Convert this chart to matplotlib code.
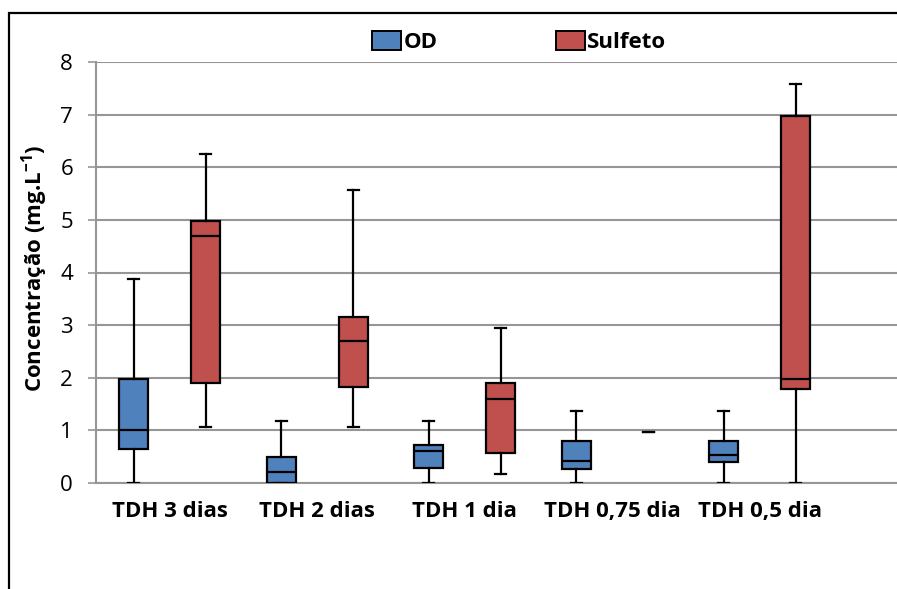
import matplotlib

matplotlib.use("Agg")
import matplotlib.pyplot as plt
from matplotlib.patches import Patch, Rectangle

plt.rcParams["font.family"] = ["Open Sans", "DejaVu Sans"]
plt.rcParams["mathtext.fontset"] = "custom"
plt.rcParams["mathtext.rm"] = "Open Sans"
plt.rcParams["mathtext.bf"] = "Open Sans:bold"

# TDH groups and box statistics (mg/L)
groups = ["TDH 3 dias", "TDH 2 dias", "TDH 1 dia", "TDH 0,75 dia", "TDH 0,5 dia"]

od_low = [0.0, 0.0, 0.0, 0.0, 0.0]
od_q1 = [0.65, 0.0, 0.28, 0.27, 0.39]
od_med = [1.0, 0.2, 0.6, 0.42, 0.54]
od_q3 = [1.97, 0.5, 0.73, 0.8, 0.8]
od_high = [3.87, 1.17, 1.17, 1.37, 1.37]

sulf_low = [1.07, 1.07, 0.17, 0.96, 0.0]
sulf_q1 = [1.9, 1.82, 0.57, 0.96, 1.79]
sulf_med = [4.7, 2.7, 1.6, 0.96, 1.97]
sulf_q3 = [4.97, 3.15, 1.9, 0.96, 6.97]
sulf_high = [6.25, 5.57, 2.95, 0.96, 7.58]

BLUE = "#4F81BD"
RED = "#C0504D"
GRID = "#969696"


def stats(low, q1, med, q3, high):
    return [
        {"whislo": a, "q1": b, "med": c, "q3": d, "whishi": e, "fliers": []}
        for a, b, c, d, e in zip(low, q1, med, q3, high)
    ]


fig = plt.figure(figsize=(8.97, 5.89), dpi=100)
ax = fig.add_axes([96 / 897, 106 / 589, 1 - 96 / 897, 421 / 589])

line = dict(color="black", lw=1.6)
for st, off, col in [
    (stats(od_low, od_q1, od_med, od_q3, od_high), -0.245, BLUE),
    (stats(sulf_low, sulf_q1, sulf_med, sulf_q3, sulf_high), 0.245, RED),
]:
    for i, s in enumerate(st):
        # a group where every value is the same shows only a short dash
        flat = s["whislo"] == s["whishi"]
        ax.bxp(
            [s],
            positions=[i + off],
            widths=0.197,
            capwidths=0.075,
            patch_artist=True,
            showbox=not flat,
            boxprops=dict(facecolor=col, edgecolor="black", lw=1.6),
            medianprops=dict(color="black", lw=1.6, visible=not flat),
            whiskerprops=line,
            capprops=line,
            manage_ticks=False,
            zorder=3,
        )

ax.set_xlim(-0.5, 4.93)
ax.set_ylim(0, 8)
ax.set_yticks(range(0, 9))
ax.set_xticks(range(len(groups)))
ax.set_xticklabels(groups, fontweight="bold", fontsize=16)
ax.tick_params(axis="x", length=0, pad=13)
ax.tick_params(axis="y", length=5.5, color=GRID, width=1.2, labelsize=16, pad=11)
ax.yaxis.grid(True, color=GRID, lw=1.5)
ax.set_axisbelow(True)
for side in ["top", "right"]:
    ax.spines[side].set_visible(False)
for side in ["left", "bottom"]:
    ax.spines[side].set_color(GRID)
    ax.spines[side].set_linewidth(1.5)

ax.set_ylabel("Concentração (mg.L$^{\\mathbf{-1}}$)", fontweight="bold", fontsize=16)
ax.yaxis.set_label_coords(-0.058, 0.51)

handles = [
    Patch(facecolor=BLUE, edgecolor="black", lw=1.4, label="OD"),
    Patch(facecolor=RED, edgecolor="black", lw=1.4, label="Sulfeto"),
]
fig.legend(
    handles=handles,
    loc="center",
    bbox_to_anchor=(0.579, 0.929),
    ncol=2,
    frameon=False,
    prop=dict(weight="bold", size=16),
    handlelength=1.3,
    handleheight=0.95,
    handletextpad=0.12,
    columnspacing=5.3,
)

# chart frame (cropped at right and bottom in the original)
fig.add_artist(
    Rectangle(
        (8.5 / 897, -0.2), 1.2, 1.2 - 13 / 589,
        transform=fig.transFigure, fill=False, lw=1.6, edgecolor="black",
    )
)

fig.savefig("out.png", dpi=100)
